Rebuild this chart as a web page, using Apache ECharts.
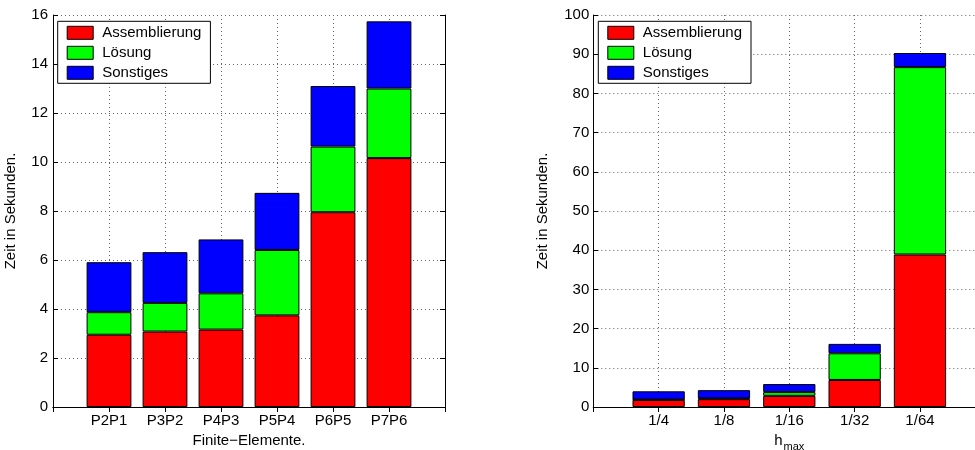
<!DOCTYPE html>
<html>
<head>
<meta charset="utf-8">
<script src="https://cdn.jsdelivr.net/npm/echarts@6/dist/echarts.min.js"></script>
<style>
  html, body { margin: 0; padding: 0; background: #fff; }
  #chart { width: 975px; height: 450px; }
</style>
</head>
<body>
<div id="chart"></div>
<script>
// Laufzeiten je Finite-Elemente-Paar (Sekunden)
const elemCategories = ['P2P1', 'P3P2', 'P4P3', 'P5P4', 'P6P5', 'P7P6'];
const elemAssembly = [2.95, 3.08, 3.16, 3.74, 7.95, 10.16];
const elemSolve    = [0.92, 1.17, 1.48, 2.67, 2.68, 2.84];
const elemOther    = [2.04, 2.07, 2.20, 2.33, 2.47, 2.74];

// Laufzeiten je Gitterweite h_max (Sekunden)
const meshCategories = ['1/4', '1/8', '1/16', '1/32', '1/64'];
const meshAssembly = [1.80, 2.00, 2.85, 6.90, 38.9];
const meshSolve    = [0.10, 0.20, 0.95, 6.80, 47.8];
const meshOther    = [2.10, 2.10, 2.05, 2.40, 3.60];

const seriesNames = ['Assemblierung', 'Lösung', 'Sonstiges'];
const seriesColors = ['#ff0000', '#00ff00', '#0000ff'];

const FONT = '"Liberation Sans", Arial, Helvetica, sans-serif';
const FS = 15;

// Plot boxes (the right one runs past the canvas edge)
const boxL = { left: 53, top: 15, width: 392, height: 392 };
const boxR = { left: 593.3, top: 15, width: 392, height: 392 };
// x range runs from 0 to n+1 with the bars at 1..n
const barWL = boxL.width / (elemCategories.length + 1) * 0.8;
const barWR = boxR.width / (meshCategories.length + 1) * 0.8;

const gridLine = { show: true, interval: 0, lineStyle: { color: '#666', type: [1, 3], width: 1 } };
const axisLineStyle = { show: true, lineStyle: { color: '#000', width: 1 } };
const tickIn = { show: true, inside: true, length: 5, interval: 0, lineStyle: { color: '#000' } };

// Category slots padded by one empty slot on each side
function padded(cats) { return ['', ...cats, '']; }

function xAxes(gridIndex, cats, name, nameStyle, nameGap) {
  return [
    {
      type: 'category', gridIndex, data: padded(cats), boundaryGap: false,
      position: 'bottom',
      axisLine: axisLineStyle, axisTick: tickIn,
      axisLabel: { interval: 0, color: '#000', fontFamily: FONT, fontSize: FS, margin: 6 },
      splitLine: gridLine,
      name, nameLocation: 'middle', nameGap,
      nameTextStyle: nameStyle
    },
    {
      type: 'category', gridIndex, data: padded(cats), boundaryGap: false,
      position: 'top',
      axisLine: axisLineStyle, axisTick: tickIn,
      axisLabel: { show: false }, splitLine: { show: false }
    }
  ];
}

function yAxes(gridIndex, max, interval, nameGap, margin) {
  return [
    {
      type: 'value', gridIndex, min: 0, max, interval,
      position: 'left',
      axisLine: axisLineStyle, axisTick: tickIn,
      axisLabel: { color: '#000', fontFamily: FONT, fontSize: FS, margin },
      splitLine: gridLine,
      name: 'Zeit in Sekunden.', nameLocation: 'middle', nameGap, nameRotate: 90,
      nameTextStyle: { color: '#000', fontFamily: FONT, fontSize: FS }
    },
    {
      type: 'value', gridIndex, min: 0, max, interval,
      position: 'right',
      axisLine: axisLineStyle, axisTick: tickIn,
      axisLabel: { show: false }, splitLine: { show: false }
    }
  ];
}

function stackSeries(xIdx, yIdx, stack, valueLists, barWidth) {
  return valueLists.map((vals, k) => ({
    name: seriesNames[k],
    type: 'bar',
    stack,
    xAxisIndex: xIdx,
    yAxisIndex: yIdx,
    barWidth,
    itemStyle: { color: seriesColors[k], borderColor: '#000', borderWidth: 1 },
    emphasis: { disabled: true },
    data: ['-', ...vals, '-']
  }));
}

function legendAt(left) {
  return {
    left, top: 21.3,
    orient: 'vertical',
    data: seriesNames,
    backgroundColor: '#fff',
    borderColor: '#000', borderWidth: 1,
    padding: [4, 9, 3, 9],
    itemWidth: 26, itemHeight: 13, itemGap: 5,
    icon: 'rect',
    itemStyle: { borderColor: '#000', borderWidth: 1 },
    textStyle: { color: '#000', fontFamily: FONT, fontSize: FS, lineHeight: 13, padding: [0, 0, 0, 4] },
    selectedMode: false
  };
}

const plainName = { color: '#000', fontFamily: FONT, fontSize: FS };
const subName = {
  color: '#000', fontFamily: FONT,
  rich: {
    h: { fontSize: FS, fontFamily: FONT, color: '#000', verticalAlign: 'top', lineHeight: 16 },
    s: { fontSize: 11, fontFamily: FONT, color: '#000', verticalAlign: 'top', lineHeight: 16, padding: [9, 0, 0, 1] }
  }
};

const chart = echarts.init(document.getElementById('chart'), null, { renderer: 'canvas' });
chart.setOption({
  animation: false,
  backgroundColor: '#fff',
  grid: [
    { left: boxL.left, top: boxL.top, width: boxL.width, height: boxL.height, outerBoundsMode: 'none', containLabel: false },
    { left: boxR.left, top: boxR.top, width: boxR.width, height: boxR.height, outerBoundsMode: 'none', containLabel: false }
  ],
  legend: [legendAt(57.7), legendAt(598.3)],
  xAxis: [
    ...xAxes(0, elemCategories, 'Finite\u2212Elemente.', plainName, 18),
    ...xAxes(1, meshCategories, '{h|h}{s|max}', subName, 15)
  ],
  yAxis: [
    ...yAxes(0, 16, 2, 35, 5),
    ...yAxes(1, 100, 10, 43, 4)
  ],
  series: [
    ...stackSeries(0, 0, 'elem', [elemAssembly, elemSolve, elemOther], barWL),
    ...stackSeries(2, 2, 'mesh', [meshAssembly, meshSolve, meshOther], barWR)
  ]
});
</script>
</body>
</html>
